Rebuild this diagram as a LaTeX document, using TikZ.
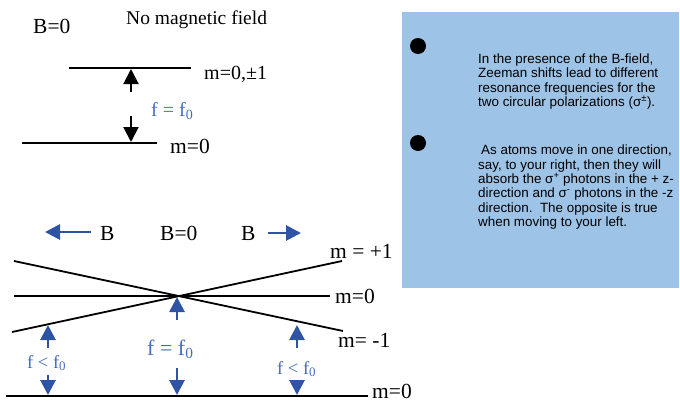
\documentclass[tikz,border=0pt]{standalone}
\usepackage{fontspec}
\setmainfont{Liberation Serif}
\newfontfamily\arialf{Liberation Sans}
\usetikzlibrary{arrows.meta}
\definecolor{boxblue}{RGB}{157,195,230}
\definecolor{arrblue}{RGB}{47,84,165}
\definecolor{txtblue}{RGB}{68,108,192}
\begin{document}
\begin{tikzpicture}[x=1pt,y=-1pt,
  level/.style={line width=1.8pt, black},
  lbl/.style={inner sep=0pt, anchor=base west, font=\fontsize{21.5}{25}\selectfont},
  smlbl/.style={inner sep=0pt, anchor=base west, font=\fontsize{18.5}{22}\selectfont, txtblue},
  blarrow/.style={line width=2.8pt, arrblue, -{Triangle[width=15pt,length=15pt]}},
  bkarrow/.style={line width=2pt, black, -{Triangle[width=15pt,length=15pt]}},
  para/.style={inner sep=0pt, anchor=north west, align=left,
    font=\arialf\fontsize{13.4}{14.3}\selectfont}
]
\useasboundingbox (0,0) rectangle (680,402);

% ---------- right text box ----------
\path[fill=boxblue] (402,12) rectangle (679,288);
\fill (418,46) circle (8pt);
\fill (418,143) circle (8pt);
\node[para] (par1) at (478,53.5) {In the presence of the B-field,\\
Zeeman shifts lead to different\\
resonance frequencies for the\\
two circular polarizations (σ\textsuperscript{±}).};
\node[para] (par2) at (478,145) {\hspace{3pt}As atoms move in one direction,\\
say, to your right, then they will\\
absorb the σ\textsuperscript{+} photons in the + z-\\
direction and σ\textsuperscript{-} photons in the -z\\
direction.\ \ The opposite is true\\
when moving to your left.};

% ---------- top: no magnetic field ----------
\node[lbl, font=\fontsize{21.5}{25}\selectfont] (tB) at (33,33) {B=0};
\node[lbl, font=\fontsize{19.5}{24}\selectfont] (tNo) at (126,24) {No magnetic field};
\coordinate (u1) at (69,68);
\coordinate (u2) at (191,68);
\coordinate (l1) at (22,143);
\coordinate (l2) at (157,143);
\draw[level] (u1) -- (u2);
\draw[level] (l1) -- (l2);
\node[lbl, font=\fontsize{20}{24}\selectfont] (tm1) at (204,79) {m=0,±1};
\node[lbl] (tm0) at (170,153) {m=0};
\coordinate (ua0) at (131,92);
\coordinate (ua1) at (131,69);
\coordinate (da0) at (131,116);
\coordinate (da1) at (131,142);
\draw[bkarrow] (ua0) -- (ua1);
\draw[bkarrow] (da0) -- (da1);
\node[lbl, txtblue, font=\fontsize{20}{24}\selectfont] (tf) at (151,116) {f = f\textsubscript{0}};

% ---------- bottom: Zeeman shifted levels ----------
\node[lbl] (bB1) at (100,240) {B};
\node[lbl] (bB0) at (160,240) {B=0};
\node[lbl] (bB2) at (241,240) {B};
\coordinate (la0) at (91,232);
\coordinate (la1) at (45,232);
\coordinate (ra0) at (268,233);
\coordinate (ra1) at (301,233);
\draw[blarrow] (la0) -- (la1);
\draw[blarrow] (ra0) -- (ra1);

\coordinate (p1a) at (12,332);
\coordinate (p1b) at (342,261);
\coordinate (n1a) at (14,261);
\coordinate (n1b) at (343,331);
\coordinate (z0a) at (14,296);
\coordinate (z0b) at (330,296);
\coordinate (g1) at (6,396);
\coordinate (g2) at (368,396);
\draw[level] (p1a) -- (p1b);
\draw[level] (n1a) -- (n1b);
\draw[level] (z0a) -- (z0b);
\draw[level] (g1) -- (g2);
\node[lbl] (mp1) at (330,258) {m = +1};
\node[lbl] (mz0) at (335,303) {m=0};
\node[lbl] (mn1) at (338,347) {m= -1};
\node[lbl] (mg0) at (372,398) {m=0};

% blue transition arrows
\coordinate (a1u0) at (48,348);
\coordinate (a1u1) at (48,325);
\coordinate (a1d0) at (48,375);
\coordinate (a1d1) at (48,395);
\coordinate (a2u0) at (177,320);
\coordinate (a2u1) at (177,297);
\coordinate (a2d0) at (177,368);
\coordinate (a2d1) at (177,395);
\coordinate (a3u0) at (297,348);
\coordinate (a3u1) at (297,325);
\coordinate (a3d0) at (297,380);
\coordinate (a3d1) at (297,395);
\draw[blarrow] (a1u0) -- (a1u1);
\draw[blarrow] (a1d0) -- (a1d1);
\draw[blarrow] (a2u0) -- (a2u1);
\draw[blarrow] (a2d0) -- (a2d1);
\draw[blarrow] (a3u0) -- (a3u1);
\draw[blarrow] (a3d0) -- (a3d1);
\node[smlbl] (fl) at (27,368) {f < f\textsubscript{0}};
\node[lbl, txtblue, font=\fontsize{22}{26}\selectfont] (fc) at (147,355) {f = f\textsubscript{0}};
\node[smlbl] (fr) at (277,374) {f < f\textsubscript{0}};
\end{tikzpicture}
\end{document}
